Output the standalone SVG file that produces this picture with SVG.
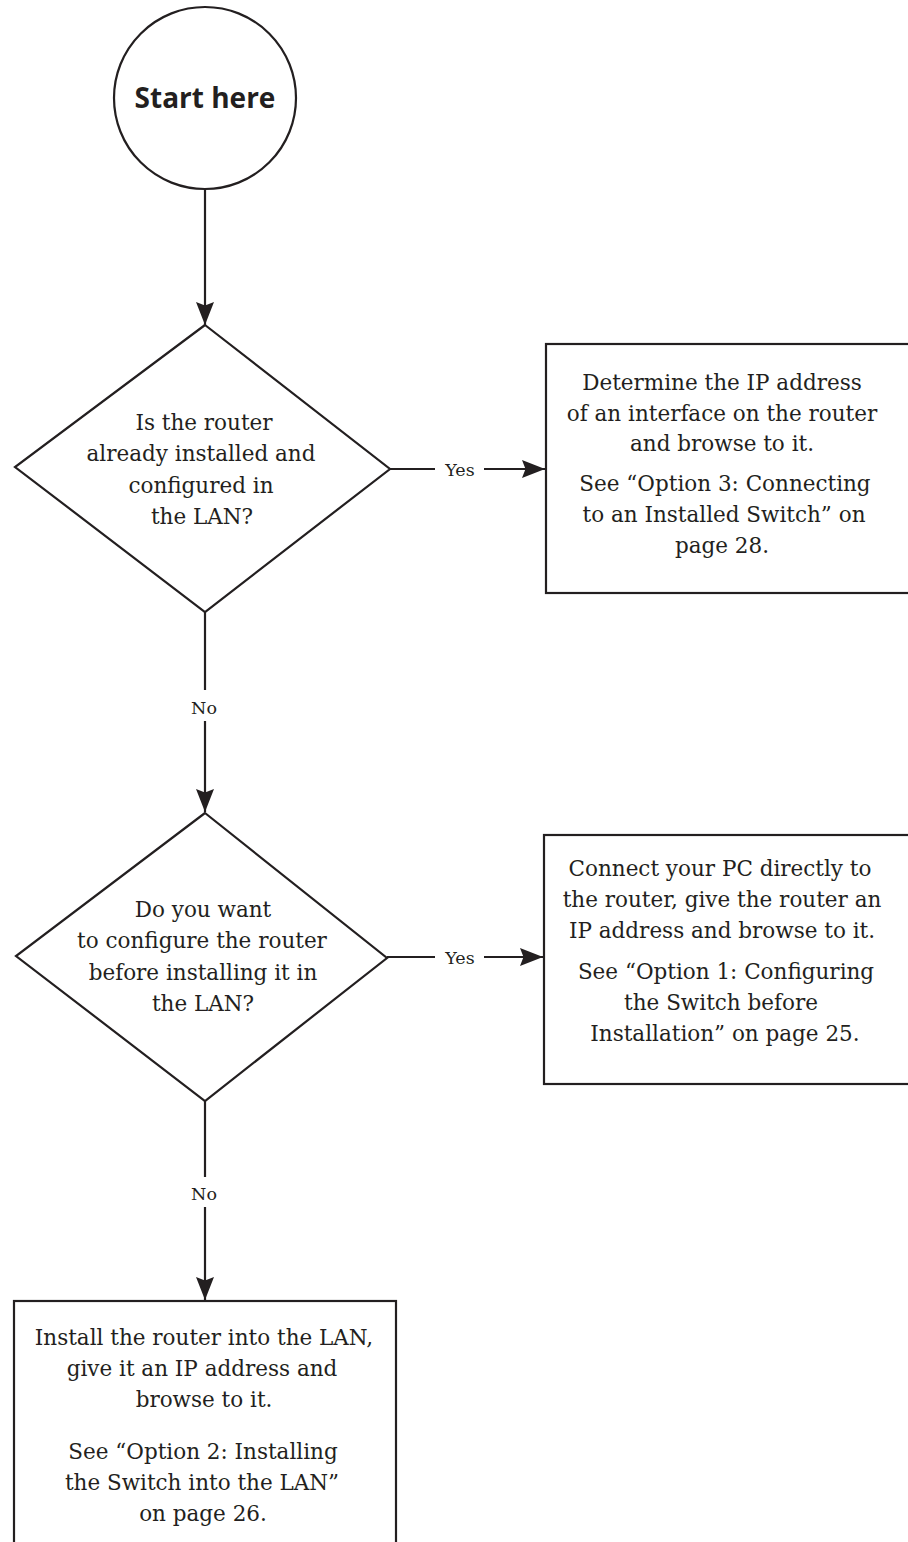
<svg xmlns="http://www.w3.org/2000/svg" width="908" height="1542" viewBox="0 0 908 1542">
<defs>
<style>
.shape{fill:#fff;stroke:#231f20;stroke-width:2.2}
.line{fill:none;stroke:#231f20;stroke-width:2.2}
.t{font-family:"DejaVu Serif","Liberation Serif",serif;font-size:21.5px;fill:#231f20;text-anchor:middle}
.lbl{font-family:"DejaVu Serif","Liberation Serif",serif;font-size:17.5px;fill:#231f20;text-anchor:middle}
.start{font-family:"Open Sans","Liberation Sans",sans-serif;font-size:28px;font-weight:bold;fill:#231f20;text-anchor:middle}
</style>
<marker id="arr" markerUnits="userSpaceOnUse" markerWidth="26" markerHeight="20" refX="23" refY="9" orient="auto">
<path d="M0,0 L23,9 L0,18 L3.5,9 Z" fill="#231f20"/>
</marker>
</defs>
<rect width="908" height="1542" fill="#fff"/>
<g id="connectors">
<line class="line" x1="205" y1="189" x2="205" y2="325" marker-end="url(#arr)"/>
<line class="line" x1="390" y1="469" x2="435" y2="469"/>
<line class="line" x1="484" y1="469" x2="545" y2="469" marker-end="url(#arr)"/>
<text class="lbl" x="460" y="476">Yes</text>
<line class="line" x1="205" y1="612" x2="205" y2="690"/>
<line class="line" x1="205" y1="721" x2="205" y2="812" marker-end="url(#arr)"/>
<text class="lbl" x="204" y="714">No</text>
<line class="line" x1="387" y1="957" x2="435" y2="957"/>
<line class="line" x1="484" y1="957" x2="543" y2="957" marker-end="url(#arr)"/>
<text class="lbl" x="460" y="964">Yes</text>
<line class="line" x1="205" y1="1101" x2="205" y2="1177"/>
<line class="line" x1="205" y1="1207" x2="205" y2="1300" marker-end="url(#arr)"/>
<text class="lbl" x="204" y="1200">No</text>
</g>
<g id="start">
<circle class="shape" cx="205" cy="98" r="91"/>
<text class="start" x="205" y="108">Start here</text>
</g>
<g id="decision1">
<polygon class="shape" points="205,325 390,469 205,612 15,467"/>
<text class="t" x="204" y="430">Is the router</text>
<text class="t" x="201" y="461">already installed and</text>
<text class="t" x="201" y="493">configured in</text>
<text class="t" x="202" y="524">the LAN?</text>
</g>
<g id="box1">
<rect class="shape" x="546" y="344" width="370" height="249"/>
<text class="t" x="722" y="390">Determine the IP address</text>
<text class="t" x="722" y="421">of an interface on the router</text>
<text class="t" x="722" y="451">and browse to it.</text>
<text class="t" x="725" y="491">See “Option 3: Connecting</text>
<text class="t" x="724" y="522">to an Installed Switch” on</text>
<text class="t" x="722" y="553">page 28.</text>
</g>
<g id="decision2">
<polygon class="shape" points="205,813 387,958 205,1101 16,956"/>
<text class="t" x="203" y="917">Do you want</text>
<text class="t" x="202" y="948">to configure the router</text>
<text class="t" x="203" y="980">before installing it in</text>
<text class="t" x="203" y="1011">the LAN?</text>
</g>
<g id="box2">
<rect class="shape" x="544" y="835" width="372" height="249"/>
<text class="t" x="720" y="876">Connect your PC directly to</text>
<text class="t" x="722" y="907">the router, give the router an</text>
<text class="t" x="722" y="938">IP address and browse to it.</text>
<text class="t" x="726" y="979">See “Option 1: Configuring</text>
<text class="t" x="721" y="1010">the Switch before</text>
<text class="t" x="725" y="1041">Installation” on page 25.</text>
</g>
<g id="box3">
<rect class="shape" x="14" y="1301" width="382" height="270"/>
<text class="t" x="204" y="1345">Install the router into the LAN,</text>
<text class="t" x="202" y="1376">give it an IP address and</text>
<text class="t" x="204" y="1407">browse to it.</text>
<text class="t" x="203" y="1459">See “Option 2: Installing</text>
<text class="t" x="202" y="1490">the Switch into the LAN”</text>
<text class="t" x="203" y="1521">on page 26.</text>
</g>
</svg>
